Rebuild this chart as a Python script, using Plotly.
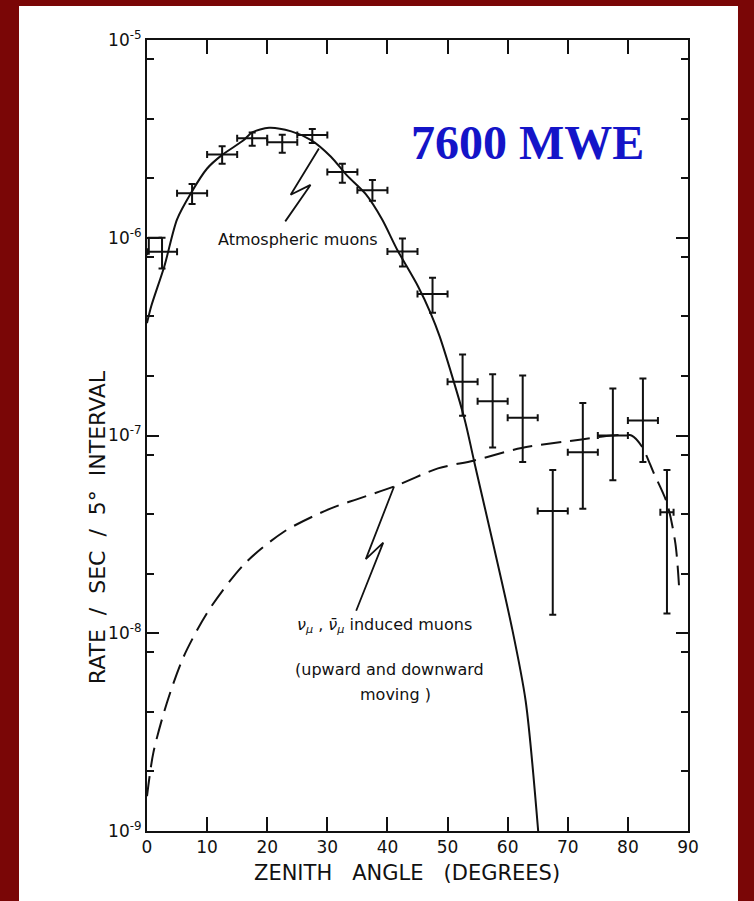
import plotly.graph_objects as go

# ---------------- data ----------------
angle = [2.5, 7.5, 12.5, 17.5, 22.5, 27.5, 32.5, 37.5, 42.5, 47.5,
         52.5, 57.5, 62.5, 67.5, 72.5, 77.5, 82.5, 86.5]
rate = [8.5e-7, 1.68e-6, 2.64e-6, 3.19e-6, 3.04e-6, 3.31e-6, 2.15e-6, 1.74e-6, 8.52e-7, 5.20e-7,
        1.87e-7, 1.49e-7, 1.23e-7, 4.15e-8, 8.24e-8, 1.00e-7, 1.19e-7, 4.09e-8]
rate_hi = [1.0e-6, 1.87e-6, 2.90e-6, 3.41e-6, 3.32e-6, 3.55e-6, 2.37e-6, 1.96e-6, 9.9e-7, 6.28e-7,
           2.57e-7, 2.04e-7, 2.01e-7, 6.69e-8, 1.46e-7, 1.73e-7, 1.94e-7, 6.70e-8]
rate_lo = [7.0e-7, 1.48e-6, 2.37e-6, 2.92e-6, 2.69e-6, 3.01e-6, 1.90e-6, 1.54e-6, 7.16e-7, 4.18e-7,
           1.26e-7, 8.69e-8, 7.35e-8, 1.24e-8, 4.26e-8, 5.94e-8, 7.35e-8, 1.26e-8]
angle_halfwidth = [2.5] * 17 + [1.1]

# first-bin bracket
bracket_angle = [0.3, 0.3, 2.5]
bracket_rate = [8.2e-7, 1.0e-6, 1.0e-6]

# atmospheric muons (solid curve)
atm_angle = [0, 0.7, 2.9, 5, 7.3, 10, 12.4, 16, 17.5, 20.3, 24, 27.3, 30.6, 33.3, 36.4,
             39.1, 41.6, 45.1, 47.2, 48.7, 52.8, 54.4, 60.7, 63, 65.2]
atm_rate = [3.7e-7, 4.5e-7, 7.2e-7, 1.24e-6, 1.68e-6, 2.24e-6, 2.61e-6, 3.10e-6, 3.41e-6, 3.60e-6,
            3.45e-6, 3.12e-6, 2.57e-6, 2.06e-6, 1.66e-6, 1.24e-6, 8.73e-7, 5.67e-7, 4.15e-7,
            3.16e-7, 1.22e-7, 7.46e-8, 1.07e-8, 4.53e-9, 9.0e-10]

# neutrino induced muons (dashed curve)
nu_angle = [0, 1.06, 3.3, 6.1, 10.3, 16.2, 22.9, 30.5, 35, 41.1, 48.4, 54.3, 62.3, 72.3,
            77.3, 80.6, 82.3, 84.3, 86.5, 87.9, 88.5]
nu_rate = [1.5e-9, 2.49e-9, 4.44e-9, 7.62e-9, 1.31e-8, 2.24e-8, 3.28e-8, 4.27e-8, 4.77e-8,
           5.52e-8, 6.82e-8, 7.46e-8, 8.65e-8, 9.55e-8, 1.0e-7, 1.0e-7, 8.83e-8, 6.46e-8,
           4.55e-8, 2.85e-8, 1.75e-8]

# leader "lightning" lines for the labels
bolt1_angle = [23.0, 27.2, 23.9, 28.6]
bolt1_rate = [1.21e-6, 1.85e-6, 1.65e-6, 2.83e-6]
bolt2_angle = [34.8, 39.3, 36.4, 41.1]
bolt2_rate = [1.30e-8, 2.87e-8, 2.37e-8, 5.52e-8]

x_ticks = [0, 10, 20, 30, 40, 50, 60, 70, 80, 90]
y_major = [1e-9, 1e-8, 1e-7, 1e-6, 1e-5]
y_major_text = ["10<sup>-9</sup>", "10<sup>-8</sup>", "10<sup>-7</sup>", "10<sup>-6</sup>", "10<sup>-5</sup>"]
y_minor = [m * 10.0 ** e for e in range(-9, -5) for m in (2, 4, 8)]

# ---------------- figure ----------------
INK = "#111111"
FONT = "DejaVu Sans"
MAROON = "#7a0606"

err_plus = [h - r for h, r in zip(rate_hi, rate)]
err_minus = [r - l for r, l in zip(rate, rate_lo)]

fig = go.Figure()

fig.add_trace(go.Scatter(x=atm_angle, y=atm_rate, mode="lines",
                         line=dict(color=INK, width=2, shape="spline", smoothing=0.8),
                         showlegend=False, hoverinfo="skip"))
fig.add_trace(go.Scatter(x=nu_angle, y=nu_rate, mode="lines",
                         line=dict(color=INK, width=2, dash="20px,9px", shape="spline",
                                   smoothing=0.8),
                         showlegend=False, hoverinfo="skip"))
fig.add_trace(go.Scatter(x=bolt1_angle, y=bolt1_rate, mode="lines",
                         line=dict(color=INK, width=1.8), showlegend=False, hoverinfo="skip"))
fig.add_trace(go.Scatter(x=bolt2_angle, y=bolt2_rate, mode="lines",
                         line=dict(color=INK, width=1.8), showlegend=False, hoverinfo="skip"))
fig.add_trace(go.Scatter(x=bracket_angle, y=bracket_rate, mode="lines",
                         line=dict(color=INK, width=2), showlegend=False, hoverinfo="skip"))
fig.add_trace(go.Scatter(
    x=angle, y=rate, mode="markers",
    marker=dict(color=INK, size=2),
    error_y=dict(type="data", array=err_plus, arrayminus=err_minus, symmetric=False,
                 color=INK, thickness=2, width=3.5),
    error_x=dict(type="data", array=angle_halfwidth, color=INK, thickness=2, width=3.5),
    showlegend=False))

axis_common = dict(showline=True, linecolor=INK, linewidth=2, mirror="ticks",
                   ticks="inside", tickcolor=INK, tickwidth=2, showgrid=False,
                   zeroline=False, tickfont=dict(family=FONT, size=17, color=INK))

fig.update_xaxes(range=[0, 90], tickmode="array", tickvals=x_ticks, ticklen=14, **axis_common)
fig.update_yaxes(type="log", range=[-9, -5], tickmode="array", tickvals=y_major,
                 ticktext=y_major_text, ticklen=12,
                 minor=dict(tickmode="array", tickvals=y_minor, ticks="inside", ticklen=7,
                            tickwidth=2, tickcolor=INK, showgrid=False),
                 **axis_common)

LBL = dict(family=FONT, size=16, color=INK)
annotations = [
    dict(x=25.1, y=-6.01, xref="x", yref="y", text="Atmospheric muons", showarrow=False,
         font=LBL, xanchor="center", yanchor="middle"),
    dict(x=39.5, y=-7.963, xref="x", yref="y",
         text="<i>ν<sub>μ</sub></i> , <i>ν̄<sub>μ</sub></i> induced muons", showarrow=False,
         font=LBL, xanchor="center", yanchor="middle"),
    dict(x=40.3, y=-8.183, xref="x", yref="y", text="(upward and downward", showarrow=False,
         font=LBL, xanchor="center", yanchor="middle"),
    dict(x=41.4, y=-8.31, xref="x", yref="y", text="moving )", showarrow=False,
         font=LBL, xanchor="center", yanchor="middle"),
    dict(x=0.704, y=0.870, xref="paper", yref="paper", text="<b>7600 MWE</b>", showarrow=False,
         font=dict(family="Liberation Serif", size=48, color="#1414c8"),
         xanchor="center", yanchor="middle"),
    dict(x=0.48, y=-0.053, xref="paper", yref="paper",
         text="ZENITH&nbsp;&nbsp; ANGLE&nbsp;&nbsp; (DEGREES)", showarrow=False,
         font=dict(family=FONT, size=21, color=INK), xanchor="center", yanchor="middle"),
    dict(x=-0.0924, y=0.384, xref="paper", yref="paper",
         text="RATE&nbsp; /&nbsp; SEC&nbsp; /&nbsp; 5°&nbsp; INTERVAL",
         showarrow=False, textangle=-90,
         font=dict(family=FONT, size=22, color=INK), xanchor="center", yanchor="middle"),
]

fig.update_layout(
    width=754, height=901,
    margin=dict(l=147, r=66, t=40, b=70),
    paper_bgcolor=MAROON,
    plot_bgcolor="white",
    annotations=annotations,
    shapes=[dict(type="rect", xref="paper", yref="paper", x0=-0.2366, x1=1.0924,
                 y0=-0.09, y1=1.043, fillcolor="white", line=dict(width=0), layer="below")],
)

fig.write_html("out.html",
               config={"displayModeBar": False},
               post_script="document.body.style.margin='0';document.body.style.padding='0';"
                           "document.body.style.background='" + MAROON + "';")
